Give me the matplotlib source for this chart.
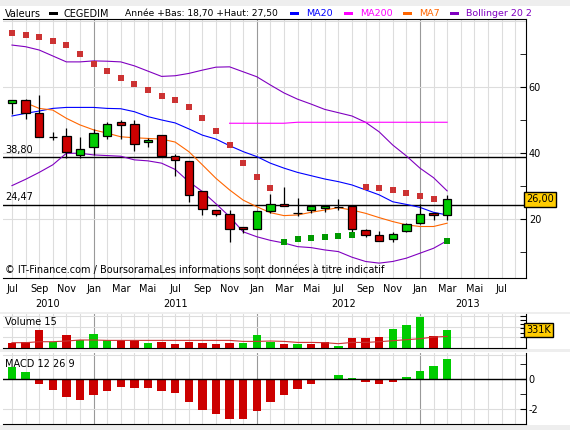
import numpy as np
import matplotlib
matplotlib.use('Agg')
import matplotlib.pyplot as plt
from matplotlib.patches import Rectangle

# monthly candles, Jul 2010 .. Mar 2013
opens = [55.2, 56.2, 52.1, 45.0, 45.2, 39.5, 42.0, 45.3, 49.4, 48.8, 43.3, 45.5, 39.2, 37.6, 28.5, 22.8, 21.6,
         17.6, 17.0, 22.4, 24.6, 21.8, 22.7, 23.5, 23.7, 24.0, 16.7, 15.2, 13.9, 16.5, 18.8, 21.8, 21.2]
closes = [56.2, 52.1, 44.9, 45.0, 40.5, 41.3, 46.1, 48.9, 48.5, 42.7, 44.0, 39.2, 38.0, 27.3, 23.0, 21.5, 17.0,
          17.0, 22.5, 24.6, 23.9, 21.8, 23.9, 23.9, 23.7, 17.0, 15.2, 13.5, 15.5, 18.5, 21.5, 21.2, 26.0]
highs = [56.2, 56.4, 57.6, 46.5, 47.8, 45.0, 47.4, 49.6, 50.2, 50.2, 44.5, 45.5, 39.7, 37.6, 28.5, 22.8, 22.8,
         17.6, 22.5, 27.8, 29.9, 26.3, 23.9, 24.2, 26.1, 24.3, 17.1, 16.5, 16.1, 18.8, 24.5, 21.8, 27.5]
lows = [51.9, 50.3, 44.9, 44.0, 38.5, 38.7, 39.5, 44.2, 44.2, 40.8, 42.0, 39.2, 33.2, 25.3, 21.3, 21.1, 13.2,
        15.8, 17.0, 21.9, 23.9, 21.1, 21.8, 22.1, 22.8, 16.2, 14.7, 13.5, 13.2, 16.1, 18.7, 19.9, 19.9]

sar = [76.5, 75.9, 75.3, 74.1, 72.7, 70.0, 67.2, 65.0, 62.9, 61.1, 59.3, 57.5, 56.1, 53.9, 50.7, 46.7, 42.5,
       37.0, 32.7, 29.4, 13.2, 14.0, 14.2, 14.5, 14.8, 15.2, 29.7, 29.4, 28.8, 27.9, 27.1, 26.1, 13.4]
boll_up = [72.8, 72.3, 71.3, 69.5, 67.7, 67.7, 68.0, 67.9, 67.7, 66.5, 64.9, 63.3, 63.5, 64.2, 65.2, 66.1, 66.2,
           64.7, 63.2, 60.7, 58.3, 56.4, 54.9, 53.3, 52.3, 51.3, 49.4, 46.5, 42.5, 39.2, 35.5, 32.6, 28.6]
boll_low = [30.2, 32.1, 34.2, 36.5, 40.0, 40.0, 39.5, 39.3, 39.1, 38.0, 37.7, 37.0, 35.1, 31.4, 28.4, 24.7, 20.8,
            16.2, 14.7, 13.6, 12.8, 11.7, 11.4, 10.7, 10.2, 8.5, 7.2, 6.7, 7.2, 8.2, 9.7, 11.2, 13.5]
ma20 = [51.3, 52.1, 52.8, 53.6, 53.9, 53.9, 53.9, 53.6, 53.5, 52.6, 51.1, 50.1, 49.2, 47.4, 45.5, 44.3, 42.3,
        40.5, 39.0, 37.0, 35.5, 34.2, 33.2, 32.2, 31.4, 30.4, 28.9, 27.4, 25.3, 24.5, 23.6, 22.1, 21.3]
ma7 = [np.nan, 55.3, 53.6, 53.1, 50.6, 48.6, 47.1, 46.1, 45.0, 44.7, 44.5, 44.3, 43.4, 40.5, 36.5, 32.4, 28.9,
       25.8, 23.8, 22.0, 21.1, 21.3, 22.1, 22.8, 23.5, 22.8, 21.8, 20.5, 19.3, 18.3, 17.8, 17.8, 18.8]
ma200 = [np.nan] * 16 + [49.1] * 5 + [49.4] * 12

volume = [94, 99, 331, 112, 237, 137, 256, 137, 137, 137, 88, 107, 69, 107, 88, 69, 88,
          88, 237, 112, 69, 69, 69, 99, 32, 181, 181, 200, 350, 424, 574, 219, 331]
vol_up = [0, 0, 0, 1, 0, 1, 1, 1, 0, 0, 1, 0, 0, 0, 0, 0, 0,
          1, 1, 1, 0, 1, 0, 0, 1, 0, 0, 0, 1, 1, 1, 0, 1]
vol_ma15 = [94, 94, 112, 112, 125, 144, 144] + [137] * 10 + \
           [118, 118, 125, 118, 99, 99, 94, 75, 99, 99, 112, 131, 150, 168, 200, 211]
macd_hist = [0.8, 0.47, -0.33, -0.73, -1.18, -1.4, -1.11, -0.78, -0.51, -0.58, -0.58, -0.78, -0.93, -1.58,
             -2.11, -2.38, -2.71, -2.71, -2.18, -1.58, -1.11, -0.64, -0.31, 0.0, 0.27, 0.07, -0.18, -0.31,
             -0.18, 0.16, 0.53, 0.87, 1.36]

month_labels = ['Jul', 'Sep', 'Nov', 'Jan', 'Mar', 'Mai'] * 3 + ['Jul']
year_labels = ['2010', '2011', '2012', '2013']
year_pos = [2.6, 12.0, 24.4, 33.5]
support_levels = [38.80, 24.47]
support_labels = ['38,80', '24,47']

GREEN = '#00cc00'
RED = '#cc0000'
GRID = '#dddddd'
JAN = '#999999'
FS = 7

x = np.arange(len(closes))
xlim = (-0.66, 37.8)
W, H = 570, 430

fig = plt.figure(figsize=(5.7, 4.3), dpi=100, facecolor='#eeeeee')


def fy(py):
    return 1 - py / H


# white panels behind the axes
for top, bot in [(6, 312), (314, 349), (352, 425)]:
    fig.patches.append(Rectangle((0, fy(bot)), 1, (bot - top) / H, transform=fig.transFigure,
                                 facecolor='white', edgecolor='none', zorder=-10))

ax = fig.add_axes([3 / W, fy(278.3), 523 / W, 259.3 / H])
axv = fig.add_axes([3 / W, fy(347.7), 523 / W, 33.4 / H])
axm = fig.add_axes([3 / W, fy(424), 523 / W, 70.7 / H])


def base(a):
    a.set_xlim(*xlim)
    a.set_facecolor('white')
    for i in range(0, 38):
        a.axvline(i, color=JAN if i % 12 == 6 else GRID, lw=0.8, zorder=0)
    a.spines['left'].set_visible(False)
    a.spines['top'].set_visible(False)
    a.yaxis.tick_right()
    a.tick_params(axis='y', which='both', direction='in', labelsize=FS, pad=2, length=4)
    a.tick_params(axis='x', bottom=False, labelbottom=False)


for a in (ax, axv, axm):
    base(a)
ax.spines['top'].set_visible(True)

# main price panel
ax.set_ylim(2.1, 80.7)
ax.set_yticks([20, 40, 60])
ax.set_yticks([10, 30, 50, 70], minor=True)
for v in [20, 40, 60, 80]:
    ax.axhline(v, color=GRID, lw=0.8, zorder=0)
for lvl, lab in zip(support_levels, support_labels):
    ax.axhline(lvl, color='black', lw=1, zorder=1)
    ax.text(0.004, lvl + 0.8, lab, transform=ax.get_yaxis_transform(), fontsize=FS, va='bottom')

ax.plot(x, boll_up, color='#8000c0', lw=0.8, zorder=2)
ax.plot(x, boll_low, color='#8000c0', lw=0.8, zorder=2)
ax.plot(x, ma20, color='#0000ff', lw=0.8, zorder=2)
ax.plot(x, ma200, color='#ff00ff', lw=0.8, zorder=2)
ax.plot(x, ma7, color='#ff6600', lw=0.8, zorder=2)

bw = 0.62
for i in x:
    o, c = opens[i], closes[i]
    ax.vlines(i, lows[i], highs[i], color='black', lw=0.9, zorder=3)
    if o == c:
        ax.hlines(c, i - bw / 2, i + bw / 2, color='black', lw=0.9, zorder=4)
    else:
        ax.bar(i, c - o, bottom=o, width=bw, color=GREEN if c > o else RED,
               edgecolor='black', lw=0.9, zorder=4)

for i in x:
    above = sar[i] > closes[i]
    ax.plot(i, sar[i], 's', ms=3.9, mew=0, color='#cc3333' if above else '#009900', zorder=5)

ax.text(0.004, 0.012, '\u00a9 IT-Finance.com / BoursoramaLes informations sont données à titre indicatif',
        transform=ax.transAxes, fontsize=FS, va='bottom')
ax.text(1.0, closes[-1], '26,00', transform=ax.get_yaxis_transform(), fontsize=FS, va='center', ha='left',
        bbox=dict(boxstyle='square,pad=0.25', facecolor='#ffcc00', edgecolor='black', lw=1), zorder=6,
        clip_on=False)

for k, lab in enumerate(month_labels):
    ax.text(2 * k, -0.042, lab, transform=ax.get_xaxis_transform(), fontsize=FS, ha='center', va='center')
for p, lab in zip(year_pos, year_labels):
    ax.text(p, -0.099, lab, transform=ax.get_xaxis_transform(), fontsize=FS, ha='center', va='center')

# header / legend
hy = fy(13.7)
fig.text(5 / W, hy, 'Valeurs', fontsize=FS, va='center')
fig.text(64 / W, hy, 'CEGEDIM', fontsize=FS, va='center')
fig.text(125 / W, hy, 'Année +Bas: 18,70 +Haut: 27,50', fontsize=6.6, va='center')
legend_items = [(49, 'black', None), (290, '#0000ff', 'MA20'), (344, '#ff00ff', 'MA200'),
                (403, '#ff6600', 'MA7'), (450, '#8000c0', 'Bollinger 20 2')]
for px, col, lab in legend_items:
    fig.patches.append(Rectangle((px / W, hy - 1.5 / H), 9 / W, 3.5 / H, transform=fig.transFigure,
                                 facecolor=col, edgecolor='none'))
    if lab:
        fig.text((px + 16) / W, hy, lab, fontsize=6.8, va='center', color=col)

# volume panel
axv.set_ylim(0, 625)
axv.set_yticks([200, 280, 360, 440, 520, 600])
axv.set_yticklabels([])
for v in [200, 390, 590]:
    axv.axhline(v, color=GRID, lw=0.8, zorder=0)
axv.bar(x, volume, width=bw, color=[GREEN if u else RED for u in vol_up], zorder=2)
axv.plot(x, vol_ma15, color='#cc3333', lw=0.8, zorder=3)
axv.text(0.004, 0.92, 'Volume 15', transform=axv.transAxes, fontsize=FS, va='top')
axv.text(1.0, volume[-1], '331K', transform=axv.get_yaxis_transform(), fontsize=FS, va='center', ha='left',
         bbox=dict(boxstyle='square,pad=0.25', facecolor='#ffcc00', edgecolor='black', lw=1), zorder=6,
         clip_on=False)

# MACD panel
axm.set_ylim(-3.03, 1.73)
axm.set_yticks([0, -2])
axm.set_yticklabels(['0', '-2'])
axm.set_yticks([1, -1, -3], minor=True)
axm.axhline(-2, color=GRID, lw=0.8, zorder=0)
axm.axhline(1.6, color=GRID, lw=0.8, zorder=0)
axm.bar(x, macd_hist, width=bw, color=[GREEN if v > 0 else RED for v in macd_hist], zorder=2)
axm.axhline(0, color='black', lw=1, zorder=3)
axm.text(0.004, 0.92, 'MACD 12 26 9', transform=axm.transAxes, fontsize=FS, va='top')

fig.savefig('out.png', dpi=100, facecolor=fig.get_facecolor())
